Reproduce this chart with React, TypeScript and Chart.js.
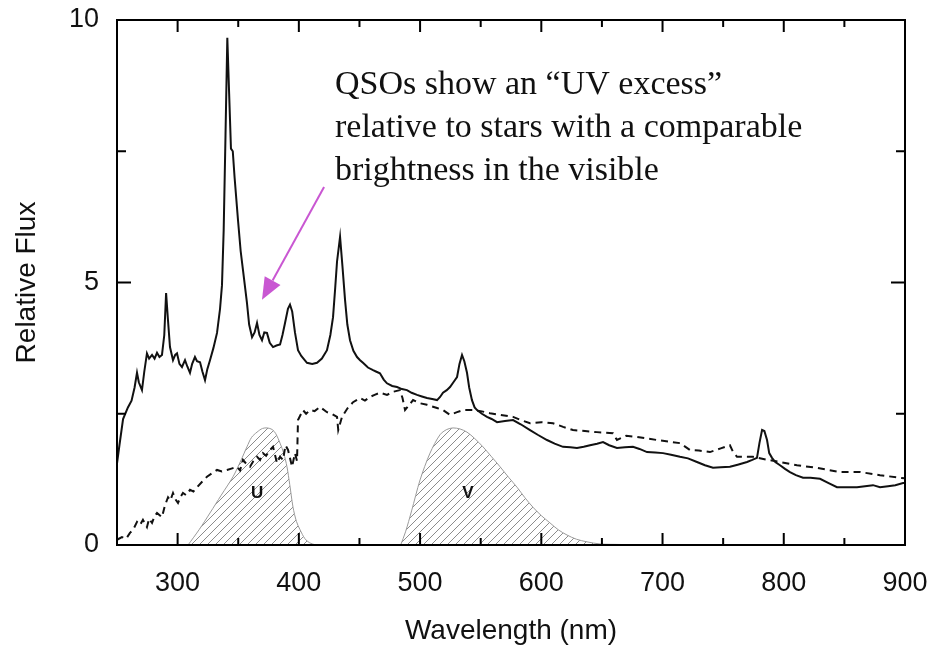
import React, { useEffect, useRef } from 'react';
import { Chart, registerables } from 'chart.js';

Chart.register(...registerables);

// QSO spectrum (solid line)
const qsoWavelength = [
  250, 252, 255, 259, 262, 264.5, 266.5, 268, 270.6, 272.5, 274.7, 276.5, 278.9, 281, 283, 285, 287.1, 289, 290.5, 292,
  293.7, 296.2, 298, 299.5, 301.5, 303.6, 306.1, 308, 310.2, 312, 314.3, 316, 318.5, 320.5, 322.6, 324.5, 326.7, 329.5,
  332.5, 335, 336.6, 338, 339.5, 341, 342.5, 344, 345.5, 347, 349.8, 352, 353.9, 357.2, 359, 361.4, 363.5, 365.5, 367.5,
  369.6, 371.5, 373.7, 376, 378.7, 381.5, 384.5, 386.5, 388.6, 391, 392.7, 394.5, 396.8, 399.3, 402, 406.7, 411, 415,
  419, 423.2, 426, 428.2, 430, 431.5, 434, 436, 438.1, 440, 442.2, 445, 448, 450.5, 452.9, 457, 461.2, 464, 466.9, 470,
  472.7, 477, 481, 485, 489.2, 493, 497.5, 501.5, 505.7, 510, 514, 516.5, 518.9, 522, 524.7, 527.5, 530.5, 532.5, 534.6,
  536.5, 538.7, 540.5, 542.8, 545, 547, 551, 555.2, 559, 563.5, 570, 576.7, 583, 590.7, 597, 604.7, 611, 617.9, 624,
  629.4, 635, 640.2, 646, 650.9, 656, 662.4, 669, 675.6, 681, 687.2, 694, 700.4, 707, 714.4, 721, 728.4, 735, 741.6, 748,
  755.6, 762, 769.7, 774, 777.9, 780, 782.1, 784, 786.2, 788, 790.3, 793, 796.9, 801, 805.1, 810, 815.9, 822, 829.9, 837,
  843.9, 852, 860.4, 867, 873.6, 879.4, 886, 892, 898.4, 900,
];
const qsoFlux = [
  1.55, 1.9, 2.4, 2.62, 2.75, 3.0, 3.28, 3.1, 2.95, 3.3, 3.65, 3.55, 3.62, 3.55, 3.66, 3.58, 3.62, 4.0, 4.8, 4.3,
  3.77, 3.52, 3.62, 3.65, 3.45, 3.39, 3.52, 3.4, 3.28, 3.45, 3.58, 3.5, 3.48, 3.3, 3.14, 3.35, 3.52, 3.75,
  4.04, 4.5, 4.95, 6.0, 7.8, 9.66, 8.6, 7.55, 7.5, 7.0, 6.19, 5.6, 5.24, 4.61, 4.2, 3.96, 4.05, 4.23, 4.0,
  3.9, 4.05, 4.04, 3.85, 3.77, 3.8, 3.82, 4.0, 4.23, 4.5, 4.58, 4.45, 4.05, 3.71, 3.6, 3.47, 3.45, 3.47,
  3.55, 3.71, 4.0, 4.34, 4.9, 5.4, 5.87, 5.3, 4.67, 4.2, 3.9, 3.7, 3.58, 3.52, 3.47, 3.38, 3.33, 3.3, 3.27, 3.15,
  3.08, 3.03, 3.01, 2.97, 2.95, 2.9, 2.86, 2.83, 2.8, 2.78, 2.76, 2.82, 2.9, 2.95, 3.01, 3.1, 3.2, 3.45, 3.62,
  3.5, 3.28, 3.0, 2.76, 2.62, 2.57, 2.5, 2.44, 2.4, 2.34, 2.36, 2.38, 2.3, 2.19, 2.1, 2.0, 1.93, 1.87, 1.86,
  1.85, 1.87, 1.9, 1.93, 1.96, 1.9, 1.85, 1.86, 1.87, 1.83, 1.77, 1.76, 1.75, 1.72, 1.68, 1.65, 1.58, 1.52, 1.47, 1.48,
  1.49, 1.53, 1.58, 1.62, 1.66, 1.95, 2.19, 2.17, 2.0, 1.75, 1.66, 1.58, 1.52, 1.45, 1.39, 1.33, 1.28, 1.28, 1.26, 1.18,
  1.1, 1.1, 1.1, 1.12, 1.14, 1.1, 1.12, 1.14, 1.18, 1.18,
];

// Star spectrum (dashed line)
const starWavelength = [
  250, 254.1, 257.5, 260.7, 263.5, 266.5, 269, 271.4, 274.7, 276.5, 278.9, 281, 283, 287.1, 289.5, 292.1, 294, 296.2,
  298.5, 300.3, 302.5, 304.4, 307, 310.2, 313, 316, 320, 324.2, 328, 332.5, 336.5, 340.7, 345, 349, 351.5, 353.9, 356.5,
  359.7, 362.5, 365.5, 368, 370.4, 373, 376.2, 378.7, 380.5, 382, 384.5, 386.9, 389, 391.1, 394.4, 396.8, 398.5, 399.3,
  403.4, 406, 409.2, 413, 417.5, 423.2, 427, 431.5, 432.5, 435.6, 440, 444.7, 450.4, 454.5, 458.7, 462.5, 466.9, 472.7,
  478, 483.4, 485.5, 487.6, 494.2, 500, 505.7, 514, 518.9, 524.7, 530.5, 535.4, 543.7, 550, 557.7, 566, 576.7, 583, 590.7,
  600, 609.6, 618, 626.1, 636, 645.9, 652, 659.1, 662.4, 670, 678.9, 687, 695.4, 705, 714.4, 722.6, 730, 739.1, 748,
  755.6, 758, 761.4, 768, 774.6, 785, 796.9, 810.9, 827.4, 846.4, 862.9, 879.4, 895.9, 900,
];
const starFlux = [
  0.1, 0.15, 0.12, 0.23, 0.3, 0.44, 0.38, 0.48, 0.34, 0.5, 0.42, 0.55, 0.61, 0.53, 0.75, 0.91, 0.85, 0.99,
  0.86, 0.8, 0.92, 0.99, 0.95, 1.05, 1.02, 1.1, 1.2, 1.3, 1.36, 1.43, 1.4, 1.43, 1.46, 1.49, 1.42, 1.62, 1.55,
  1.49, 1.6, 1.68, 1.62, 1.75, 1.7, 1.81, 1.87, 1.7, 1.56, 1.68, 1.62, 1.9, 1.81, 1.49, 1.75, 1.6, 2.38,
  2.57, 2.5, 2.57, 2.55, 2.63, 2.53, 2.5, 2.44, 2.19, 2.44, 2.6, 2.72, 2.8, 2.75, 2.82, 2.86, 2.9, 2.86,
  2.92, 2.95, 2.8, 2.57, 2.76, 2.7, 2.67, 2.61, 2.57, 2.48, 2.53, 2.57, 2.57, 2.55, 2.51, 2.48, 2.44, 2.38, 2.32,
  2.34, 2.32, 2.25, 2.19, 2.17, 2.15, 2.14, 2.13, 2.0, 2.08, 2.06, 2.03, 2.0, 1.97, 1.94, 1.81, 1.8, 1.77, 1.84,
  1.9, 1.78, 1.68, 1.68, 1.68, 1.63, 1.58, 1.52, 1.47, 1.39, 1.39, 1.33, 1.28, 1.27,
];

// U filter transmission
const uWavelength = [
  308.6, 318, 326.7, 336, 345.7, 352, 357.2, 361, 365.5, 370, 374, 378, 381, 384.5, 387.5, 390.2, 392.5, 395.2, 398,
  401, 405, 409, 414,
];
const uResponse = [
  0, 0.3, 0.61, 0.95, 1.3, 1.6, 1.87, 2.05, 2.15, 2.22, 2.23, 2.2, 2.12, 1.94, 1.75, 1.49, 1.15, 0.72, 0.45,
  0.29, 0.12, 0.04, 0,
];

// V filter transmission
const vWavelength = [
  484, 488, 493, 500, 508.2, 516.4, 522, 527.2, 533, 538.7, 545, 551.9, 559, 566, 573, 580, 586.5, 593.1, 600, 607.2,
  614, 621.2, 629, 637.7, 648.4, 665, 680,
];
const vResponse = [
  0, 0.25, 0.65, 1.24, 1.75, 2.1, 2.2, 2.23, 2.21, 2.15, 2.03, 1.87, 1.68, 1.49, 1.29, 1.1, 0.9, 0.72, 0.56, 0.42,
  0.29, 0.19, 0.11, 0.06, 0.02, 0.01, 0,
];

const xLabeledTicks = [300, 400, 500, 600, 700, 800, 900];
const yLabeledTicks = [0, 5, 10];

const annotationLines = [
  'QSOs show an \u201cUV excess\u201d',
  'relative to stars with a comparable',
  'brightness in the visible',
];
const annotationX = 429.8;
const annotationY = [8.59, 7.77, 6.95];
const arrowFrom = [420.8, 6.82];
const arrowTo = [369.6, 4.67];
const filterLabels = ['U', 'V'];
const filterLabelX = [365.5, 539.5];
const filterLabelY = [0.99, 0.99];

const toPoints = (xs: number[], ys: number[]) => xs.map((x, i) => ({ x, y: ys[i] }));

const decorPlugin = {
  id: 'decor',
  afterDatasetsDraw(chart: any) {
    const { ctx, chartArea, scales } = chart;
    const xs = scales.x;
    const ys = scales.y;
    const { left, right, top, bottom } = chartArea;
    ctx.save();

    // filter labels
    ctx.fillStyle = '#111';
    ctx.font = 'bold 17px "Liberation Sans"';
    ctx.textAlign = 'center';
    ctx.textBaseline = 'middle';
    filterLabels.forEach((t, i) => {
      ctx.fillText(t, xs.getPixelForValue(filterLabelX[i]), ys.getPixelForValue(filterLabelY[i]));
    });

    // frame
    ctx.strokeStyle = '#000';
    ctx.lineWidth = 2;
    ctx.strokeRect(left, top, right - left, bottom - top);

    // inward ticks
    ctx.lineWidth = 2;
    ctx.beginPath();
    xs.ticks.forEach((t: any) => {
      const px = xs.getPixelForValue(t.value);
      const len = xLabeledTicks.includes(t.value) ? 12 : 7;
      ctx.moveTo(px, bottom);
      ctx.lineTo(px, bottom - len);
      ctx.moveTo(px, top);
      ctx.lineTo(px, top + len);
    });
    ys.ticks.forEach((t: any) => {
      const py = ys.getPixelForValue(t.value);
      const len = yLabeledTicks.includes(t.value) ? 14 : 9;
      ctx.moveTo(left, py);
      ctx.lineTo(left + len, py);
      ctx.moveTo(right, py);
      ctx.lineTo(right - len, py);
    });
    ctx.stroke();

    // arrow
    const x0 = xs.getPixelForValue(arrowFrom[0]);
    const y0 = ys.getPixelForValue(arrowFrom[1]);
    const x1 = xs.getPixelForValue(arrowTo[0]);
    const y1 = ys.getPixelForValue(arrowTo[1]);
    const ang = Math.atan2(y1 - y0, x1 - x0);
    const headLen = 22;
    const headW = 9;
    const bx = x1 - headLen * Math.cos(ang);
    const by = y1 - headLen * Math.sin(ang);
    ctx.strokeStyle = '#c957d2';
    ctx.fillStyle = '#c957d2';
    ctx.lineWidth = 2;
    ctx.beginPath();
    ctx.moveTo(x0, y0);
    ctx.lineTo(bx, by);
    ctx.stroke();
    ctx.beginPath();
    ctx.moveTo(x1, y1);
    ctx.lineTo(bx + headW * Math.sin(ang), by - headW * Math.cos(ang));
    ctx.lineTo(bx - headW * Math.sin(ang), by + headW * Math.cos(ang));
    ctx.closePath();
    ctx.fill();

    // annotation text
    ctx.fillStyle = '#111';
    ctx.font = '34px "Liberation Serif"';
    ctx.textAlign = 'left';
    ctx.textBaseline = 'alphabetic';
    annotationLines.forEach((line, i) => {
      ctx.fillText(line, xs.getPixelForValue(annotationX), ys.getPixelForValue(annotationY[i]));
    });
    ctx.restore();
  },
};

export default function App() {
  const ref = useRef<HTMLCanvasElement>(null);

  useEffect(() => {
    document.body.style.margin = '0';
    const canvas = ref.current!;
    const pc = document.createElement('canvas');
    pc.width = 8;
    pc.height = 8;
    const p = pc.getContext('2d')!;
    p.strokeStyle = '#8c8c8c';
    p.lineWidth = 1;
    p.beginPath();
    p.moveTo(0, 8);
    p.lineTo(8, 0);
    p.moveTo(-1, 1);
    p.lineTo(1, -1);
    p.moveTo(7, 9);
    p.lineTo(9, 7);
    p.stroke();
    const pattern = canvas.getContext('2d')!.createPattern(pc, 'repeat');

    const chart = new Chart(canvas, {
      type: 'line',
      data: {
        datasets: [
          {
            label: 'QSO',
            data: toPoints(qsoWavelength, qsoFlux),
            borderColor: '#111',
            borderWidth: 2,
            pointRadius: 0,
            tension: 0,
            fill: false,
          },
          {
            label: 'Star',
            data: toPoints(starWavelength, starFlux),
            borderColor: '#111',
            borderWidth: 2,
            borderDash: [7, 5],
            pointRadius: 0,
            tension: 0,
            fill: false,
          },
          {
            label: 'U',
            data: toPoints(uWavelength, uResponse),
            borderColor: '#9a9a9a',
            borderWidth: 1,
            backgroundColor: pattern as any,
            pointRadius: 0,
            tension: 0.3,
            fill: 'origin',
          },
          {
            label: 'V',
            data: toPoints(vWavelength, vResponse),
            borderColor: '#9a9a9a',
            borderWidth: 1,
            backgroundColor: pattern as any,
            pointRadius: 0,
            tension: 0.3,
            fill: 'origin',
          },
        ],
      },
      options: {
        responsive: false,
        devicePixelRatio: 1,
        animation: false,
        layout: { padding: { top: 20, right: 27, left: 0, bottom: 0 } },
        plugins: { legend: { display: false }, tooltip: { enabled: false } },
        scales: {
          x: {
            type: 'linear',
            min: 250,
            max: 900,
            grid: { display: false, drawTicks: false, tickLength: 0 },
            border: { display: false },
            ticks: {
              stepSize: 50,
              autoSkip: false,
              maxRotation: 0,
              minRotation: 0,
              padding: 22,
              color: '#111',
              font: { family: '"Liberation Sans"', size: 27 },
              callback: (v: any) => (xLabeledTicks.includes(Number(v)) ? String(v) : ''),
            },
            title: {
              display: true,
              text: 'Wavelength (nm)',
              color: '#111',
              font: { family: '"Liberation Sans"', size: 28 },
              padding: { top: 0, bottom: 0 },
            },
            afterFit: (s: any) => {
              s.height = 103;
              s.paddingLeft = 0;
              s.paddingRight = 0;
            },
          },
          y: {
            min: 0,
            max: 10,
            grid: { display: false, drawTicks: false, tickLength: 0 },
            border: { display: false },
            ticks: {
              stepSize: 2.5,
              autoSkip: false,
              padding: 18,
              color: '#111',
              font: { family: '"Liberation Sans"', size: 27 },
              callback: (v: any) => (yLabeledTicks.includes(Number(v)) ? String(v) : ''),
            },
            title: {
              display: true,
              text: 'Relative Flux',
              color: '#111',
              font: { family: '"Liberation Sans"', size: 28 },
              padding: { top: 10, bottom: 0 },
            },
            afterFit: (s: any) => {
              s.width = 117;
              s.paddingTop = 0;
              s.paddingBottom = 0;
            },
          },
        },
      },
      plugins: [decorPlugin],
    });
    return () => chart.destroy();
  }, []);

  return (
    <div style={{ position: 'fixed', left: 0, top: 0, width: 932, height: 648, background: '#fff' }}>
      <canvas ref={ref} width={932} height={648} />
    </div>
  );
}
